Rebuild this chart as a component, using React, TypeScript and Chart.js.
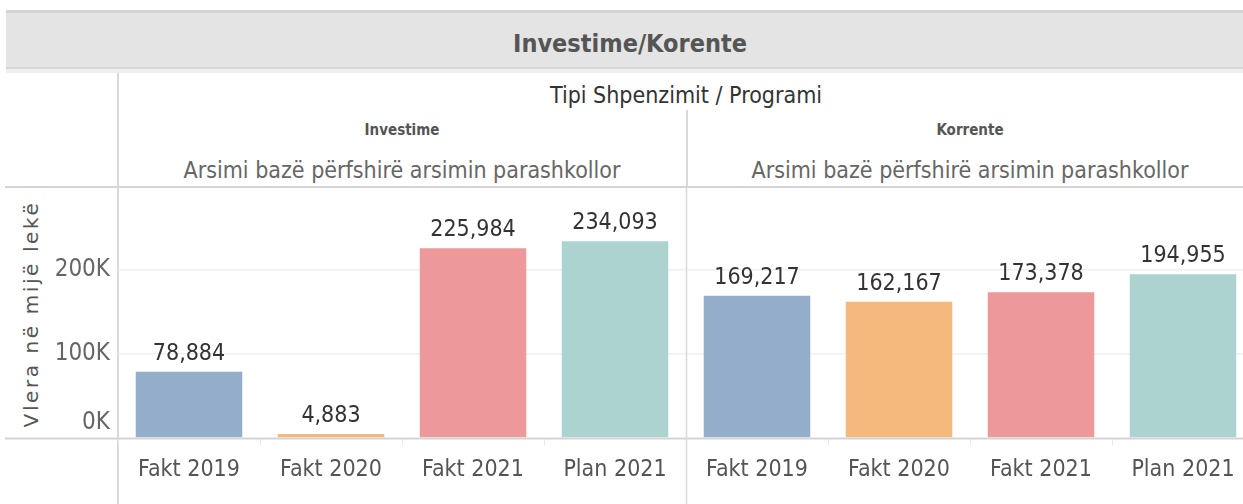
import React, { useEffect, useRef } from "react";
import { Chart, registerables } from "chart.js";

Chart.register(...registerables);

const categories = ["Fakt 2019", "Fakt 2020", "Fakt 2021", "Plan 2021", "Fakt 2019", "Fakt 2020", "Fakt 2021", "Plan 2021"];
const values = [78884, 4883, 225984, 234093, 169217, 162167, 173378, 194955];
const barColors = ["#93adca", "#f6b97d", "#ed989a", "#acd3cf", "#93adca", "#f6b97d", "#ed989a", "#acd3cf"];
const yTickValues = [0, 100000, 200000];
const yTickLabels = ["0K", "100K", "200K"];
const paneTypes = ["Investime", "Korrente"];
const programs = ["Arsimi bazë përfshirë arsimin parashkollor", "Arsimi bazë përfshirë arsimin parashkollor"];
const chartTitle = "Investime/Korente";
const headerTitle = "Tipi Shpenzimit / Programi";
const yTitle = "Vlera në mijë lekë";

const FONT = "'Liberation Sans Narrow', 'DejaVu Sans Condensed', 'Roboto Condensed', sans-serif";

const fmt = (v: number) => v.toLocaleString("en-US");

export default function App() {
  const ref = useRef<HTMLCanvasElement | null>(null);

  useEffect(() => {
    const canvas = ref.current;
    if (!canvas) return;
    const overlay = {
      id: "overlay",
      afterDatasetsDraw(chart: any) {
        const ctx = chart.ctx;
        const meta = chart.getDatasetMeta(0);
        ctx.save();
        ctx.font = `23px ${FONT}`;
        ctx.fillStyle = "#333333";
        ctx.textAlign = "center";
        ctx.textBaseline = "alphabetic";
        meta.data.forEach((bar: any, i: number) => {
          ctx.fillText(fmt(values[i]), bar.x, bar.y - 12);
        });
        ctx.restore();
      },
      afterDraw(chart: any) {
        const ctx = chart.ctx;
        const y = chart.scales.y;
        const x = chart.scales.x;
        ctx.save();
        const y0 = Math.round(y.getPixelForValue(0)) + 0.5;
        ctx.strokeStyle = "#d4d4d4";
        ctx.lineWidth = 2;
        ctx.beginPath();
        ctx.moveTo(5, y0);
        ctx.lineTo(chart.width, y0);
        ctx.stroke();
        const xd = Math.round((x.getPixelForValue(3) + x.getPixelForValue(4)) / 2) + 0.5;
        ctx.strokeStyle = "#d9d9d9";
        ctx.lineWidth = 1.5;
        ctx.beginPath();
        ctx.moveTo(xd, 0);
        ctx.lineTo(xd, chart.height);
        ctx.stroke();
        ctx.font = `24px ${FONT}`;
        ctx.fillStyle = "#666666";
        ctx.textAlign = "right";
        ctx.textBaseline = "middle";
        yTickValues.forEach((v, i) => {
          let py = y.getPixelForValue(v);
          if (v === 0) py -= 15;
          ctx.fillText(yTickLabels[i], 110, py);
        });
        ctx.restore();
      },
    };

    const chart = new Chart(canvas, {
      type: "bar",
      data: {
        labels: categories,
        datasets: [
          {
            data: values,
            backgroundColor: barColors,
            barPercentage: 0.75,
            categoryPercentage: 1,
          },
        ],
      },
      options: {
        animation: false,
        responsive: false,
        devicePixelRatio: 1,
        layout: { padding: 0 },
        plugins: { legend: { display: false }, tooltip: { enabled: false }, title: { display: false } },
        scales: {
          x: {
            afterFit: (s: any) => {
              s.height = 67;
            },
            grid: {
              offset: true,
              drawOnChartArea: false,
              drawTicks: true,
              tickLength: 7,
              color: "#e8e8e8",
            },
            border: { display: false },
            ticks: {
              font: { family: FONT, size: 23 },
              color: "#555555",
              padding: 11,
              maxRotation: 0,
              autoSkip: false,
            },
          },
          y: {
            min: 0,
            max: 297600,
            afterFit: (s: any) => {
              s.width = 118;
            },
            afterBuildTicks: (s: any) => {
              s.ticks = yTickValues.map((v) => ({ value: v }));
            },
            grid: {
              drawTicks: false,
              color: (c: any) => (c.tick && c.tick.value === 0 ? "rgba(0,0,0,0)" : "#efefef"),
              lineWidth: 1.5,
            },
            border: { display: false },
            ticks: { display: false },
          },
        },
      },
      plugins: [overlay],
    });
    return () => chart.destroy();
  }, []);

  const abs = (s: React.CSSProperties): React.CSSProperties => ({ position: "absolute", ...s });

  return (
    <div style={{ position: "fixed", left: 0, top: 0, width: 1243, height: 504, overflow: "hidden", background: "#fff", fontFamily: FONT }}>
      <div style={abs({ left: 6, top: 10, width: 1240, height: 3, background: "#d3d3d3" })} />
      <div style={abs({ left: 6, top: 13, width: 1240, height: 54, background: "#e4e4e4" })} />
      <div style={abs({ left: 6, top: 67, width: 1240, height: 2, background: "#d6d6d6" })} />
      <div style={abs({ left: 6, top: 69, width: 1240, height: 4, background: "#eeeeee" })} />
      <div style={abs({ left: 0, top: 24, width: 1260, height: 40, lineHeight: "40px", textAlign: "center", fontSize: 25, fontWeight: 600, color: "#555" })}>
        {chartTitle}
      </div>
      <div style={abs({ left: 117, top: 73, width: 1.5, height: 431, background: "#d9d9d9" })} />
      <div style={abs({ left: 118, top: 80, width: 1136, height: 30, lineHeight: "30px", textAlign: "center", fontSize: 23, color: "#333" })}>
        {headerTitle}
      </div>
      <div style={abs({ left: 686, top: 110, width: 1.5, height: 77, background: "#d9d9d9" })} />
      {paneTypes.map((p, i) => (
        <div key={"p" + i} style={abs({ left: 118 + i * 568, top: 118, width: 568, height: 24, lineHeight: "24px", textAlign: "center", fontSize: 15, fontWeight: "bold", color: "#555" })}>
          {p}
        </div>
      ))}
      {programs.map((p, i) => (
        <div key={"g" + i} style={abs({ left: 118 + i * 568, top: 154, width: 568, height: 32, lineHeight: "32px", textAlign: "center", fontSize: 23, color: "#666" })}>
          {p}
        </div>
      ))}
      <div style={abs({ left: 5, top: 186, width: 1240, height: 2, background: "#d4d4d4" })} />
      <div
        style={abs({
          left: 31 - 150,
          top: 314 - 14,
          width: 300,
          height: 28,
          lineHeight: "28px",
          textAlign: "center",
          fontFamily: "'DejaVu Sans', sans-serif",
          fontSize: 20,
          letterSpacing: 2.6,
          color: "#555",
          transform: "rotate(-90deg)",
          whiteSpace: "nowrap",
        })}
      >
        {yTitle}
      </div>
      <canvas ref={ref} width={1254} height={317} style={abs({ left: 0, top: 188, width: 1254, height: 317 })} />
    </div>
  );
}
